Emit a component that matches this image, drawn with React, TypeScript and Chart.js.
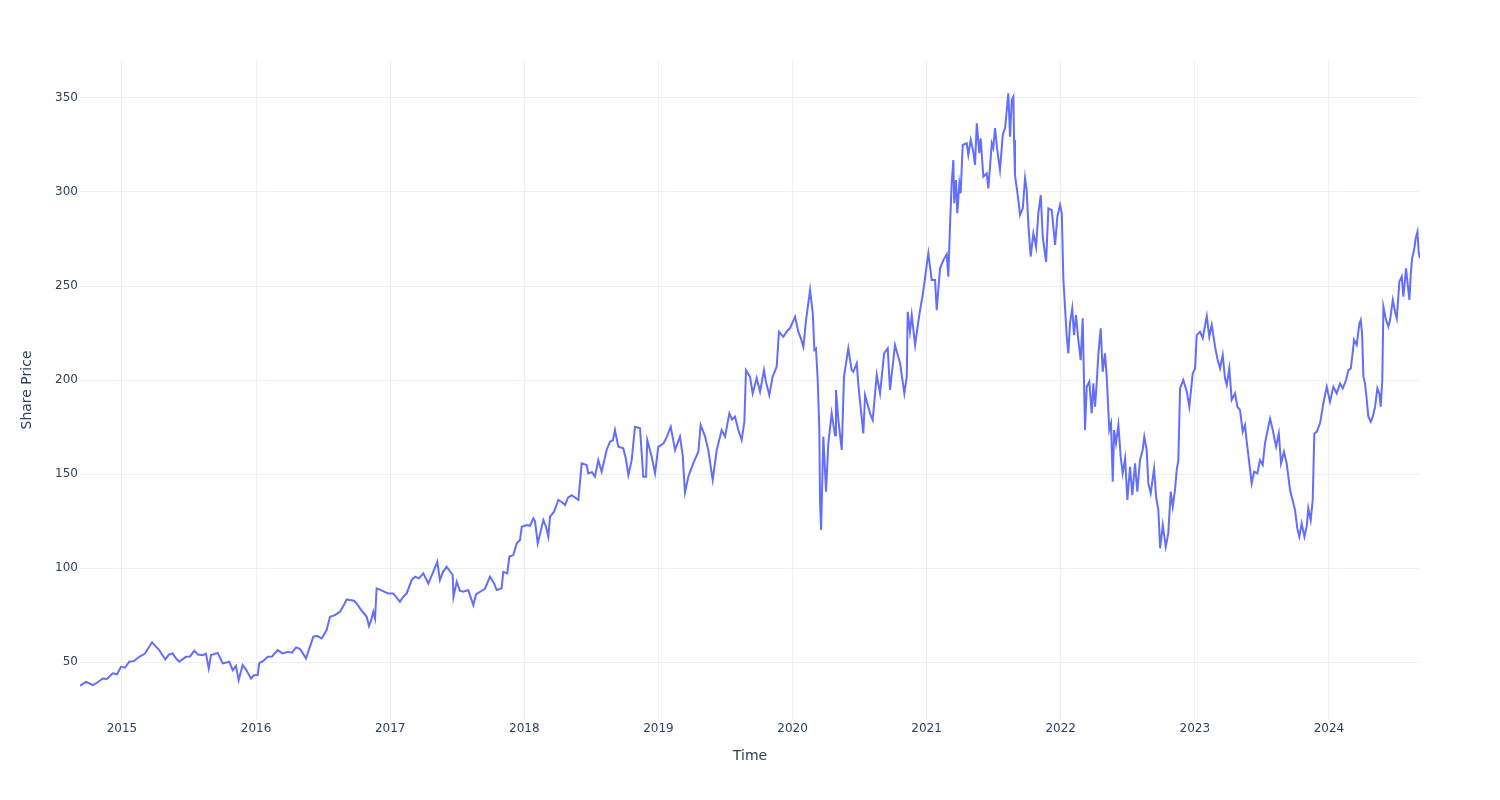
import React, { useEffect, useRef } from "react";
import { Chart, registerables } from "chart.js";

Chart.register(...registerables);

// Decimal-year timestamps of the sampled trading days
const times: number[] = [
  2014.687, 2014.732, 2014.782, 2014.814, 2014.856, 2014.888, 2014.931, 2014.963, 2014.993, 2015.022,
  2015.054, 2015.089, 2015.129, 2015.172, 2015.224, 2015.278, 2015.323, 2015.350, 2015.378, 2015.403,
  2015.427, 2015.477, 2015.507, 2015.539, 2015.567, 2015.602, 2015.626, 2015.647, 2015.664, 2015.714,
  2015.751, 2015.800, 2015.826, 2015.850, 2015.870, 2015.900, 2015.925, 2015.962, 2015.984, 2016.012,
  2016.024, 2016.051, 2016.087, 2016.119, 2016.161, 2016.198, 2016.238, 2016.268, 2016.298, 2016.327,
  2016.350, 2016.372,
  2016.427, 2016.454, 2016.489, 2016.526, 2016.551, 2016.588, 2016.626, 2016.648, 2016.676, 2016.700,
  2016.730, 2016.752, 2016.775, 2016.797, 2016.825, 2016.842, 2016.857, 2016.874, 2016.887, 2016.899,
  2016.924, 2016.954, 2016.986, 2017.023, 2017.051, 2017.073, 2017.095, 2017.123, 2017.160, 2017.185,
  2017.215, 2017.247, 2017.284, 2017.321, 2017.351, 2017.371, 2017.394, 2017.421, 2017.466, 2017.472,
  2017.496, 2017.520, 2017.545, 2017.582, 2017.620, 2017.640, 2017.670, 2017.707, 2017.744, 2017.774,
  2017.794, 2017.831, 2017.843, 2017.873, 2017.888, 2017.918, 2017.943, 2017.968,
  2017.981, 2018.018, 2018.043, 2018.067, 2018.080, 2018.100, 2018.117, 2018.142, 2018.162, 2018.179,
  2018.192, 2018.222, 2018.254, 2018.281, 2018.304, 2018.326, 2018.353, 2018.378, 2018.403, 2018.428,
  2018.465, 2018.477, 2018.505, 2018.527, 2018.552, 2018.577, 2018.614, 2018.639, 2018.661, 2018.676,
  2018.701, 2018.738, 2018.758, 2018.776, 2018.801, 2018.825, 2018.863, 2018.887, 2018.908, 2018.917,
  2018.950, 2018.975, 2018.999, 2019.037, 2019.064, 2019.092, 2019.124, 2019.161,
  2019.181, 2019.198, 2019.223, 2019.236, 2019.260, 2019.298, 2019.315, 2019.348, 2019.372, 2019.390,
  2019.405, 2019.435, 2019.472, 2019.497, 2019.529, 2019.549, 2019.571, 2019.596, 2019.621, 2019.641,
  2019.653, 2019.683, 2019.703, 2019.733, 2019.758, 2019.787, 2019.802, 2019.827, 2019.852, 2019.882,
  2019.899, 2019.931, 2019.959, 2019.981, 2020.019, 2020.043, 2020.063, 2020.081, 2020.101, 2020.131,
  2020.151, 2020.163, 2020.175, 2020.188, 2020.200, 2020.205, 2020.213, 2020.230, 2020.250, 2020.267,
  2020.292, 2020.317, 2020.324, 2020.342, 2020.367, 2020.384, 2020.416, 2020.441, 2020.453, 2020.479,
  2020.491,
  2020.528, 2020.541, 2020.578, 2020.598, 2020.628, 2020.653, 2020.683, 2020.710, 2020.727, 2020.764,
  2020.802, 2020.834, 2020.852, 2020.859, 2020.876, 2020.889, 2020.914, 2020.938, 2020.951, 2020.971,
  2021.001, 2021.013, 2021.038, 2021.063, 2021.075, 2021.100, 2021.125, 2021.150, 2021.162, 2021.175,
  2021.187, 2021.199, 2021.206, 2021.219, 2021.229, 2021.244, 2021.254, 2021.269, 2021.299, 2021.311,
  2021.329, 2021.348, 2021.361, 2021.374, 2021.393, 2021.403, 2021.423, 2021.448, 2021.460, 2021.486,
  2021.497, 2021.510, 2021.527, 2021.547, 2021.568, 2021.585, 2021.592, 2021.609, 2021.622, 2021.635,
  2021.647, 2021.652, 2021.659, 2021.676, 2021.697, 2021.717, 2021.734, 2021.746, 2021.758, 2021.776,
  2021.796, 2021.816, 2021.833, 2021.851, 2021.866, 2021.891, 2021.908, 2021.933, 2021.958, 2021.975,
  2021.995, 2022.008, 2022.019,
  2022.025, 2022.045, 2022.057, 2022.069, 2022.086, 2022.099, 2022.114, 2022.131, 2022.149, 2022.164,
  2022.174, 2022.181, 2022.194, 2022.213, 2022.231, 2022.243, 2022.256, 2022.268, 2022.281, 2022.298,
  2022.313, 2022.330, 2022.343, 2022.362, 2022.375, 2022.388, 2022.398, 2022.412, 2022.430, 2022.447,
  2022.462, 2022.480, 2022.497, 2022.517, 2022.534, 2022.554, 2022.571, 2022.591, 2022.611, 2022.623,
  2022.641, 2022.653, 2022.671, 2022.696, 2022.711, 2022.728, 2022.741, 2022.761, 2022.783, 2022.802,
  2022.820, 2022.835, 2022.852, 2022.865, 2022.877, 2022.890, 2022.914, 2022.940, 2022.959, 2022.984,
  2023.002, 2023.014,
  2023.039, 2023.059, 2023.089, 2023.108, 2023.126, 2023.151, 2023.168, 2023.188, 2023.208, 2023.225,
  2023.238, 2023.257, 2023.275, 2023.300, 2023.317, 2023.337, 2023.357, 2023.374, 2023.387, 2023.412,
  2023.424, 2023.442, 2023.466, 2023.486, 2023.506, 2023.523, 2023.548, 2023.561, 2023.581, 2023.606,
  2023.626, 2023.643, 2023.665, 2023.685, 2023.710, 2023.735, 2023.747, 2023.764, 2023.779, 2023.797,
  2023.817, 2023.834, 2023.846, 2023.864, 2023.879, 2023.891, 2023.909, 2023.934, 2023.958, 2023.984,
  2024.008, 2024.033, 2024.058,
  2024.083, 2024.103, 2024.128, 2024.145, 2024.163, 2024.178, 2024.187, 2024.207, 2024.227, 2024.237,
  2024.247, 2024.257, 2024.269, 2024.282, 2024.294, 2024.312, 2024.327, 2024.344, 2024.361, 2024.376,
  2024.386, 2024.398, 2024.406, 2024.426, 2024.443, 2024.456, 2024.476, 2024.493, 2024.506, 2024.525,
  2024.543, 2024.555, 2024.575, 2024.588, 2024.600, 2024.610, 2024.620, 2024.635, 2024.647, 2024.660,
  2024.670, 2024.679,
];

// Share price at each timestamp
const prices: number[] = [
  37.5, 39.5, 37.8, 39.0, 41.3, 41.0, 44.0, 43.5, 47.5, 47.0,
  50.2, 50.5, 52.8, 54.5, 60.5, 56.4, 51.4, 54.0, 54.6, 52.0,
  50.2, 52.8, 53.0, 56.0, 54.0, 53.7, 54.5, 46.6, 53.7, 54.9,
  49.3, 50.2, 45.7, 48.0, 40.4, 48.4, 46.0, 41.3, 43.0, 43.1,
  49.4, 50.5, 52.8, 53.0, 56.4, 54.6, 55.5, 55.0, 57.8, 57.0,
  54.5, 52.0,
  63.5, 64.0, 62.6, 67.0, 74.1, 75.0, 76.8, 79.5, 83.3, 83.0,
  82.6, 81.0, 78.6, 76.5, 74.1, 69.1, 72.0, 76.8, 73.2, 89.2,
  88.5, 87.5, 86.5, 86.5, 84.0, 82.1, 84.5, 86.5, 93.6, 95.4,
  94.5, 97.2, 91.8, 98.0, 103.3, 93.6, 98.0, 100.7, 96.3, 84.7,
  92.7, 88.0, 87.4, 88.3, 80.3, 86.0, 87.4, 89.0, 95.4, 92.0,
  88.3, 89.2, 98.0, 97.2, 106.0, 106.9, 113.1, 114.9,
  122.0, 122.9, 122.5, 126.4, 125.0, 113.1, 118.0, 125.5, 122.0, 116.7,
  127.3, 130.0, 136.2, 135.0, 133.5, 137.5, 138.8, 137.5, 136.2, 155.7,
  154.8, 150.4, 151.0, 148.6, 157.4, 151.2, 162.8, 167.2, 168.0, 173.4,
  164.5, 163.7, 158.0, 149.5, 157.4, 175.1, 174.3, 148.6, 148.6, 168.1,
  159.2, 150.4, 164.5, 166.2, 170.0, 175.1, 162.8, 169.9,
  160.0, 140.2, 148.6, 151.2, 155.7, 161.9, 176.1, 169.9, 162.8, 153.9,
  146.8, 162.8, 173.4, 169.9, 182.3, 179.0, 180.5, 173.4, 168.1, 177.8,
  205.3, 201.8, 192.9, 201.0, 193.8, 205.3, 199.0, 192.0, 201.8, 207.1,
  225.7, 223.0, 226.0, 227.5, 233.7, 225.7, 222.0, 217.7, 231.9, 247.9,
  235.5, 216.0, 216.8, 200.0, 173.4, 136.2, 120.2, 169.9, 140.6, 166.3,
  182.3, 170.7, 194.7, 178.7, 162.8, 201.8, 216.8, 205.3, 204.4, 208.9,
  197.3,
  171.6, 192.0, 182.3, 178.7, 202.7, 192.9, 214.2, 216.8, 194.7, 218.6,
  208.9, 192.9, 201.8, 236.3, 225.7, 234.6, 218.6, 231.0, 237.2, 245.2,
  261.2, 267.4, 253.2, 253.2, 237.2, 259.4, 263.8, 267.0, 255.0, 283.3,
  304.6, 317.0, 294.0, 306.4, 288.7, 304.6, 299.3, 325.0, 325.9, 319.7,
  327.7, 321.4, 314.4, 336.5, 320.6, 328.6, 308.1, 309.9, 301.9, 325.9,
  323.4, 334.0, 322.3, 311.7, 330.3, 334.0, 339.2, 352.5, 329.4, 348.9,
  350.7, 327.7, 309.0, 300.2, 287.8, 291.3, 307.3, 301.1, 283.3, 265.6,
  278.0, 270.9, 288.7, 298.4, 276.2, 262.9, 291.3, 290.4, 271.8, 286.9,
  293.1, 288.7, 255.0,
  247.0, 223.0, 214.2, 230.1, 238.1, 223.9, 234.6, 221.3, 210.6, 232.8,
  198.2, 173.4, 196.4, 199.1, 182.3, 198.2, 185.8, 198.2, 214.2, 227.5,
  204.4, 214.2, 201.8, 173.4, 177.0, 145.9, 173.4, 166.3, 176.1, 159.2,
  150.4, 158.3, 136.2, 153.9, 138.8, 155.7, 140.6, 157.4, 162.8, 169.9,
  162.8, 145.0, 139.7, 152.9, 137.9, 130.9, 110.5, 122.9, 111.3, 118.4,
  140.6, 132.6, 141.5, 152.1, 157.4, 195.6, 200.0, 193.8, 185.8, 203.5,
  206.2, 223.9,
  225.7, 222.2, 234.0, 223.0, 229.3, 217.7, 211.5, 206.2, 213.3, 200.9,
  197.3, 206.2, 189.4, 192.9, 185.8, 184.0, 172.5, 176.1, 167.2, 152.1,
  145.0, 151.2, 150.4, 157.4, 154.8, 166.3, 175.1, 179.5, 173.4, 164.5,
  171.6, 155.7, 161.9, 155.7, 141.5, 134.3, 130.9, 121.1, 116.7, 123.8,
  116.7, 122.0, 131.8, 125.5, 136.2, 171.6, 172.5, 177.1, 187.5, 196.4,
  188.5, 196.4, 192.9,
  198.2, 195.6, 200.0, 205.3, 206.2, 215.1, 221.3, 218.6, 230.1, 231.9,
  224.8, 201.8, 198.2, 189.4, 180.5, 177.8, 180.5, 185.8, 195.6, 192.9,
  185.8, 200.0, 239.0, 231.9, 228.4, 231.9, 242.6, 236.3, 232.8, 252.3,
  255.0, 244.3, 259.4, 250.5, 242.6, 255.9, 264.7, 269.1, 275.4, 278.9,
  267.4, 264.7,
];

const xTickYears: number[] = [2015, 2016, 2017, 2018, 2019, 2020, 2021, 2022, 2023, 2024];
const yTickValues: number[] = [50, 100, 150, 200, 250, 300, 350];
const xAxisTitle = "Time";
const yAxisTitle = "Share Price";

const FONT = "'DejaVu Sans', Verdana, sans-serif";
const TEXT_COLOR = "#2a3f5f";
const GRID_COLOR = "#ebf0f8";

export default function App() {
  const canvasRef = useRef<HTMLCanvasElement>(null);

  useEffect(() => {
    document.body.style.margin = "0";
    const canvas = canvasRef.current;
    if (!canvas) return;
    const chart = new Chart(canvas, {
      type: "line",
      data: {
        datasets: [
          {
            data: times.map((t, i) => ({ x: t, y: prices[i] })),
            borderColor: "#636efa",
            backgroundColor: "#636efa",
            borderWidth: 2,
            pointRadius: 0,
            tension: 0,
            fill: false,
          },
        ],
      },
      options: {
        responsive: false,
        animation: false,
        devicePixelRatio: 1,
        layout: { padding: { left: 0, right: 80, top: 60, bottom: 0 } },
        plugins: {
          legend: { display: false },
          tooltip: { enabled: false },
        },
        scales: {
          x: {
            type: "linear",
            min: 2014.687,
            max: 2024.679,
            afterBuildTicks: (s: any) => {
              s.ticks = xTickYears.map((v) => ({ value: v }));
            },
            afterFit: (s: any) => {
              s.height = 80;
            },
            grid: { color: GRID_COLOR, lineWidth: 1, drawTicks: false },
            border: { display: false },
            ticks: {
              padding: 2,
              maxRotation: 0,
              autoSkip: false,
              color: TEXT_COLOR,
              font: { family: FONT, size: 12 },
              callback: (v: any) => String(v),
            },
            title: {
              display: true,
              text: xAxisTitle,
              color: TEXT_COLOR,
              font: { family: FONT, size: 14 },
              padding: { top: 0, bottom: 35 },
            },
          },
          y: {
            type: "linear",
            min: 19.2,
            max: 370.2,
            afterBuildTicks: (s: any) => {
              s.ticks = yTickValues.map((v) => ({ value: v }));
            },
            afterFit: (s: any) => {
              s.width = 80;
            },
            grid: { color: GRID_COLOR, lineWidth: 1, drawTicks: false },
            border: { display: false },
            ticks: {
              padding: 2,
              color: TEXT_COLOR,
              font: { family: FONT, size: 12 },
              callback: (v: any) => String(v),
            },
            title: {
              display: true,
              text: yAxisTitle,
              color: TEXT_COLOR,
              font: { family: FONT, size: 14 },
              padding: { top: 19, bottom: 0 },
            },
          },
        },
      },
    });
    return () => chart.destroy();
  }, []);

  return (
    <div style={{ width: 1500, height: 800, background: "#ffffff" }}>
      <canvas ref={canvasRef} width={1500} height={800} />
    </div>
  );
}
